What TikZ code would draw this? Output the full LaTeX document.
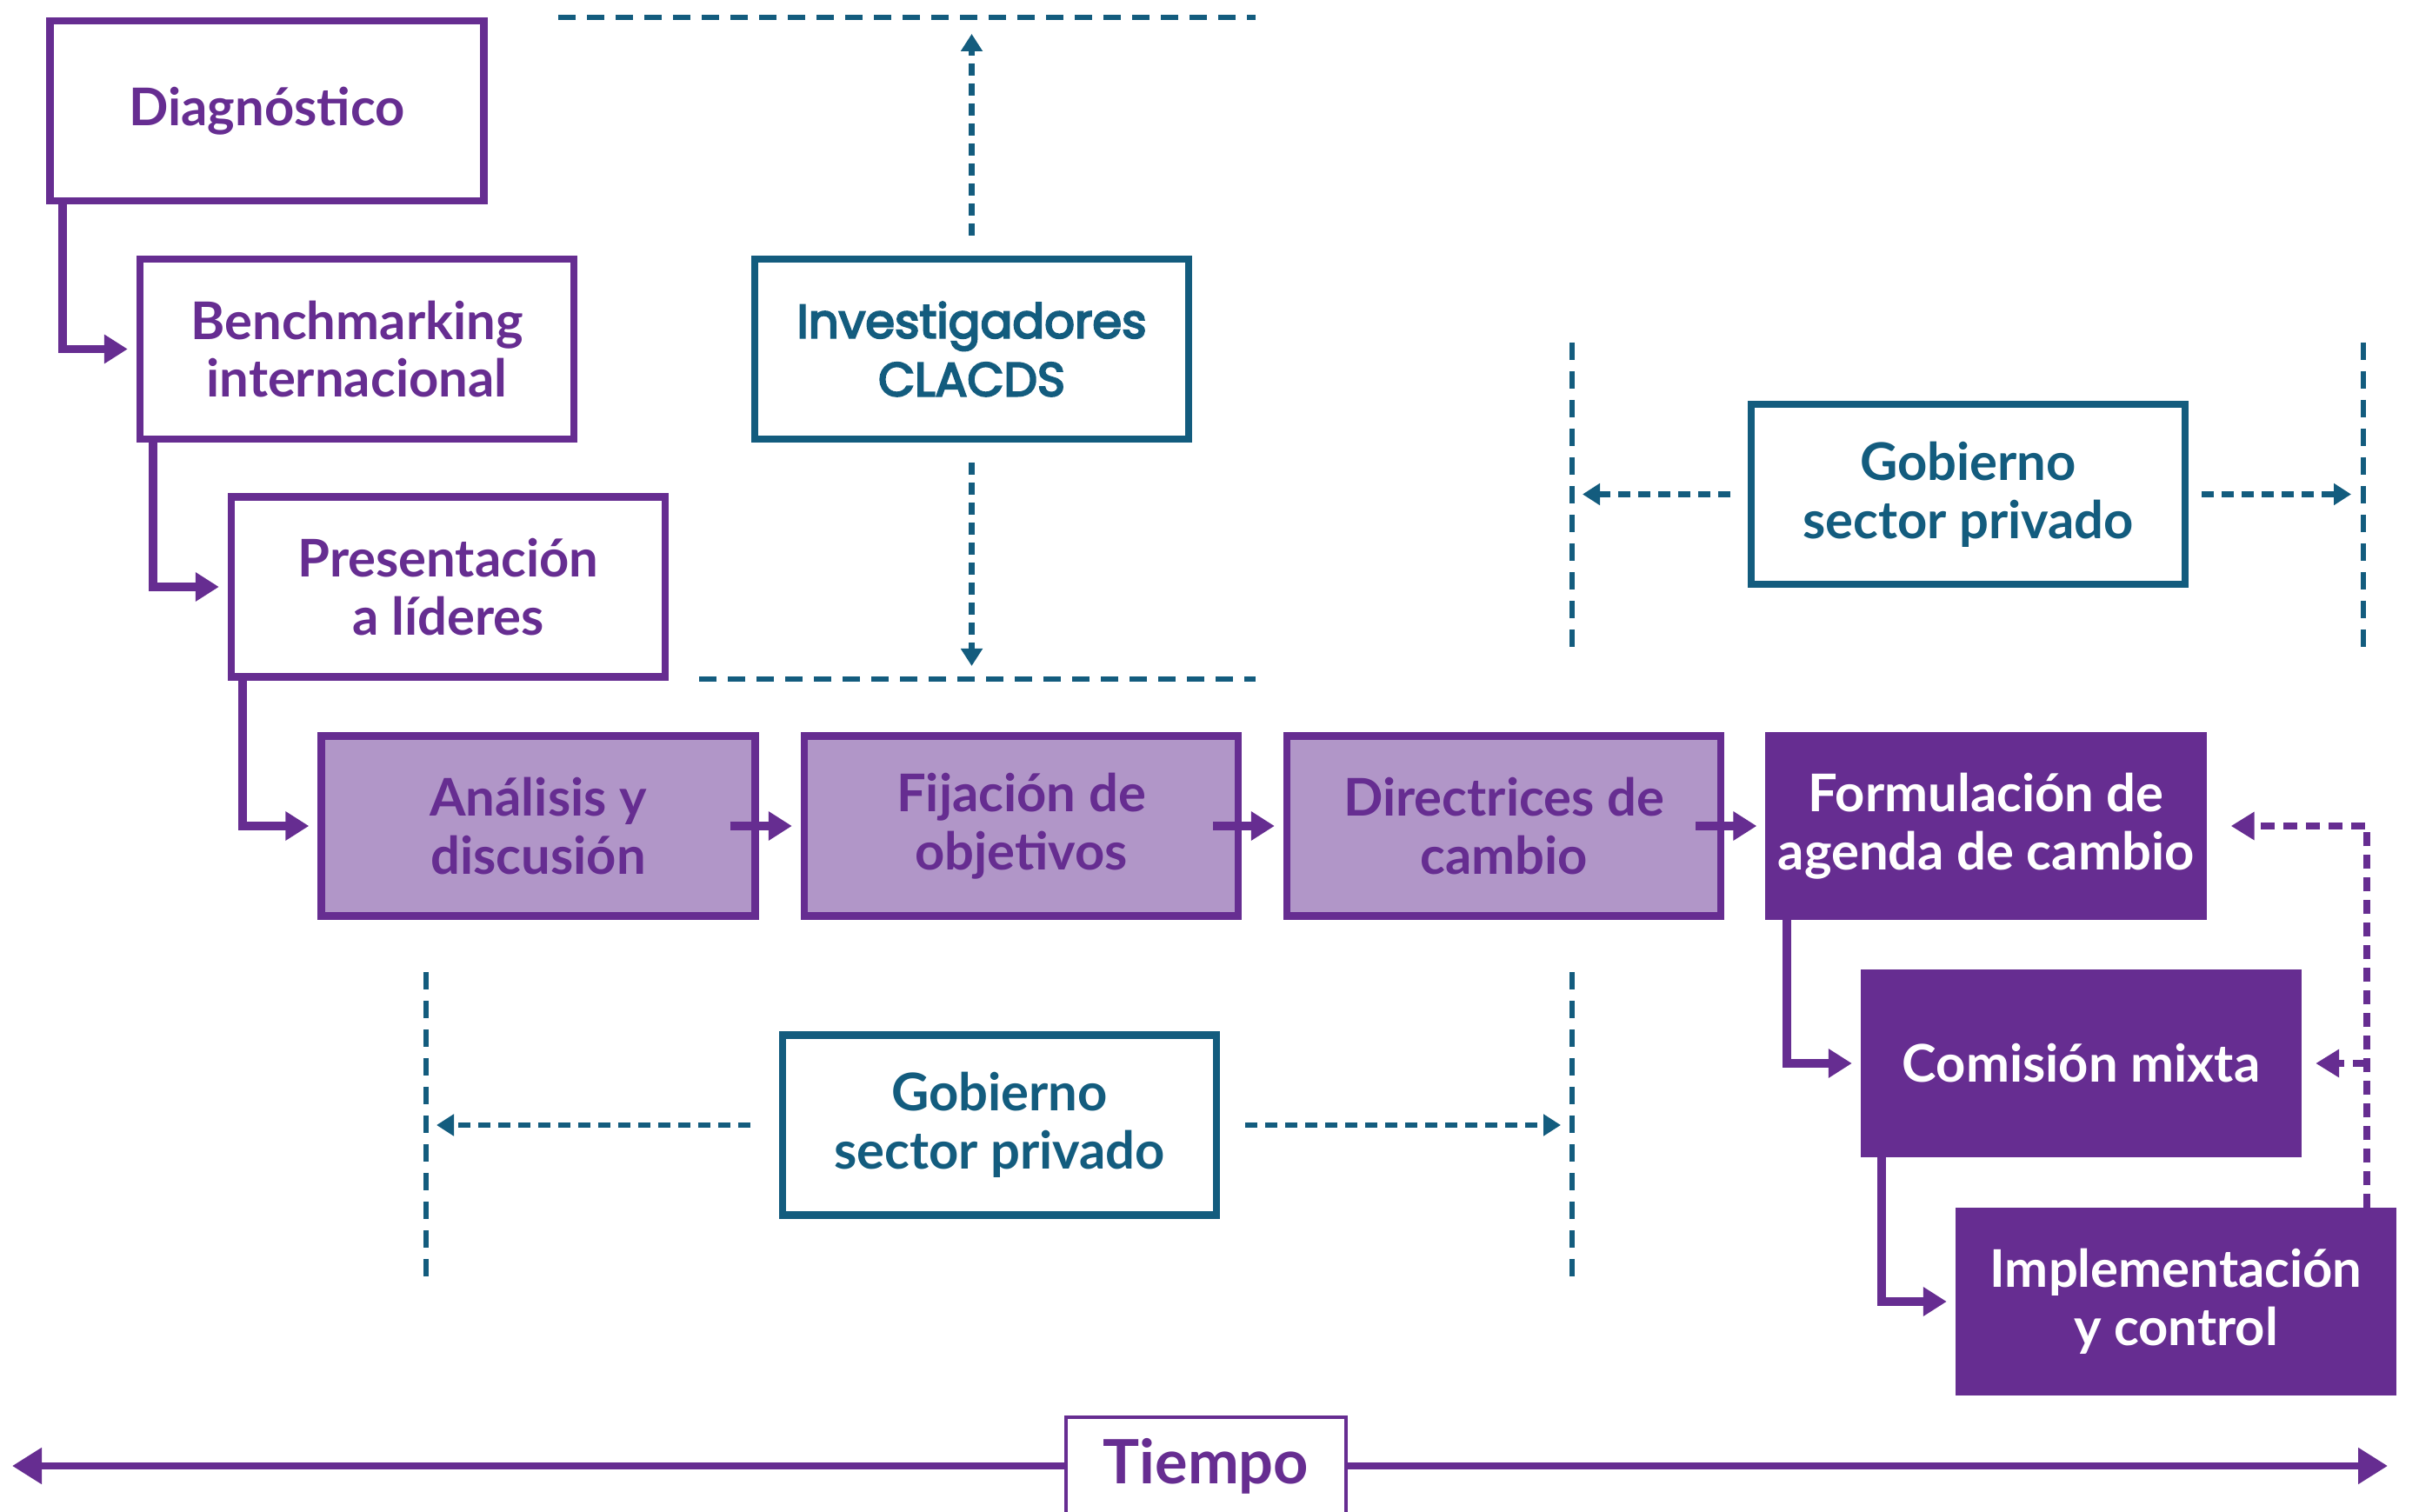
\documentclass[tikz,border=0pt]{standalone}
\usepackage{fontspec}
\setmainfont{Lato}
\newfontfamily\poppins{Poppins}[FakeBold=4]
\usetikzlibrary{arrows.meta, positioning, calc}
\definecolor{mainpurple}{RGB}{102, 45, 145}
\definecolor{lightpurple}{RGB}{177, 150, 200}
\definecolor{deepblue}{RGB}{19, 92, 126}

\begin{document}
\begin{tikzpicture}[
    box/.style={rectangle, draw=mainpurple, line width=2.4pt, minimum width=4.99cm, minimum height=2.07cm, inner sep=0pt, align=center, font=\fontsize{17}{19}\selectfont\bfseries, text=mainpurple},
    stage/.style={box, fill=lightpurple},
    action/.style={box, fill=mainpurple, text=white},
    actor/.style={box, draw=deepblue, text=deepblue},
    arrow/.style={-{Triangle[length=0.27cm, width=0.32cm]}, line width=2.8pt, draw=mainpurple, shorten >=0.1cm},
    guide/.style={draw=deepblue, line width=1.7pt, dash pattern=on 0.2cm off 0.13cm},
    flow/.style={-{Triangle[length=0.2cm, width=0.24cm]}, draw=deepblue, line width=1.8pt, dash pattern=on 0.14cm off 0.09cm},
    feedback/.style={-{Triangle[length=0.27cm, width=0.31cm]}, draw=mainpurple, line width=2.2pt, dash pattern=on 0.16cm off 0.1cm},
    timeline/.style={{Triangle[length=0.34cm, width=0.4cm]}-{Triangle[length=0.34cm, width=0.4cm]}, draw=mainpurple, line width=2.3pt}
]
    \useasboundingbox (0,0) rectangle (27.82,-17.39);

    % Preparation steps
    \node[box] (diag) at (3.07, -1.275) {Diagnóstico};
    \node[box] (bench) at (4.105, -4.015) {Benchmarking\\internacional};
    \node[box] (pres) at (5.155, -6.75) {Presentación\\a líderes};

    % Main row
    \node[stage] (ana) at (6.19, -9.5) {Análisis y\\discusión};
    \node[stage] (fij) at (11.745, -9.5) {Fijación de\\objetivos};
    \node[stage] (dir) at (17.295, -9.5) {Directrices de\\cambio};
    \node[action] (form) at (22.84, -9.5) {Formulación de\\agenda de cambio};
    \node[action] (com) at (23.935, -12.23) {Comisión mixta};
    \node[action] (imp) at (25.025, -14.97) {Implementación\\y control};

    % Actors
    \node[actor, font=\poppins\fontsize{15.5}{19}\selectfont] (inv) at (11.175, -4.015) {Investigadores\\CLACDS};
    \node[actor] (gobtop) at (22.635, -5.685) {Gobierno\\sector privado};
    \node[actor] (gobbot) at (11.495, -12.94) {Gobierno\\sector privado};

    % Purple arrows
    \draw[arrow] ([xshift=0.19cm]diag.south west) |- (bench.west);
    \draw[arrow] ([xshift=0.19cm]bench.south west) |- (pres.west);
    \draw[arrow] ([xshift=0.17cm]pres.south west) |- (ana.west);
    \draw[arrow] ([xshift=-0.33cm]ana.east) -- (fij.west);
    \draw[arrow] ([xshift=-0.33cm]fij.east) -- (dir.west);
    \draw[arrow] ([xshift=-0.33cm]dir.east) -- (form.west);
    \draw[arrow] ([xshift=0.25cm]form.south west) |- (com.west);
    \draw[arrow] ([xshift=0.24cm]com.south west) |- (imp.west);

    % Feedback
    \draw[feedback, shorten >=0.28cm] ([xshift=-0.34cm]imp.north east) |- (form.east);
    \draw[feedback, shorten >=0.16cm] ([xshift=-0.34cm]imp.north east |- com.east) -- (com.east);

    % Dashed limits
    \draw[guide] (6.42, -0.2) -- (14.44, -0.2);
    \draw[guide] (8.04, -7.81) -- (14.44, -7.81);
    \draw[guide] (18.08, -3.94) -- (18.08, -7.45);
    \draw[guide] (27.18, -3.94) -- (27.18, -7.45);
    \draw[guide] (4.9, -11.18) -- (4.9, -14.72);
    \draw[guide] (18.08, -11.18) -- (18.08, -14.72);

    % Actor arrows
    \coordinate (invup) at (11.175, -0.39);
    \coordinate (invdown) at (11.175, -7.66);
    \coordinate (gobtopl) at (18.2, -5.685);
    \coordinate (gobtopr) at (27.04, -5.685);
    \coordinate (gobbotl) at (5.02, -12.94);
    \coordinate (gobbotr) at (17.95, -12.94);
    \draw[flow] ([yshift=0.23cm]inv.north) -- (invup);
    \draw[flow] ([yshift=-0.23cm]inv.south) -- (invdown);
    \draw[flow] ([xshift=-0.2cm]gobtop.west) -- (gobtopl);
    \draw[flow] ([xshift=0.15cm]gobtop.east) -- (gobtopr);
    \draw[flow] ([xshift=-0.33cm]gobbot.west) -- (gobbotl);
    \draw[flow] ([xshift=0.29cm]gobbot.east) -- (gobbotr);

    % Time axis
    \coordinate (tleft) at (0.14, -16.86);
    \coordinate (tright) at (27.46, -16.86);
    \draw[timeline] (tleft) -- (tright);
    \node[rectangle, draw=mainpurple, fill=white, line width=1.4pt, minimum width=3.22cm, minimum height=1.12cm, font=\fontsize{20}{24}\selectfont\bfseries, text=mainpurple] (tiempo) at (13.87, -16.86) {Tiempo};

\end{tikzpicture}
\end{document}
